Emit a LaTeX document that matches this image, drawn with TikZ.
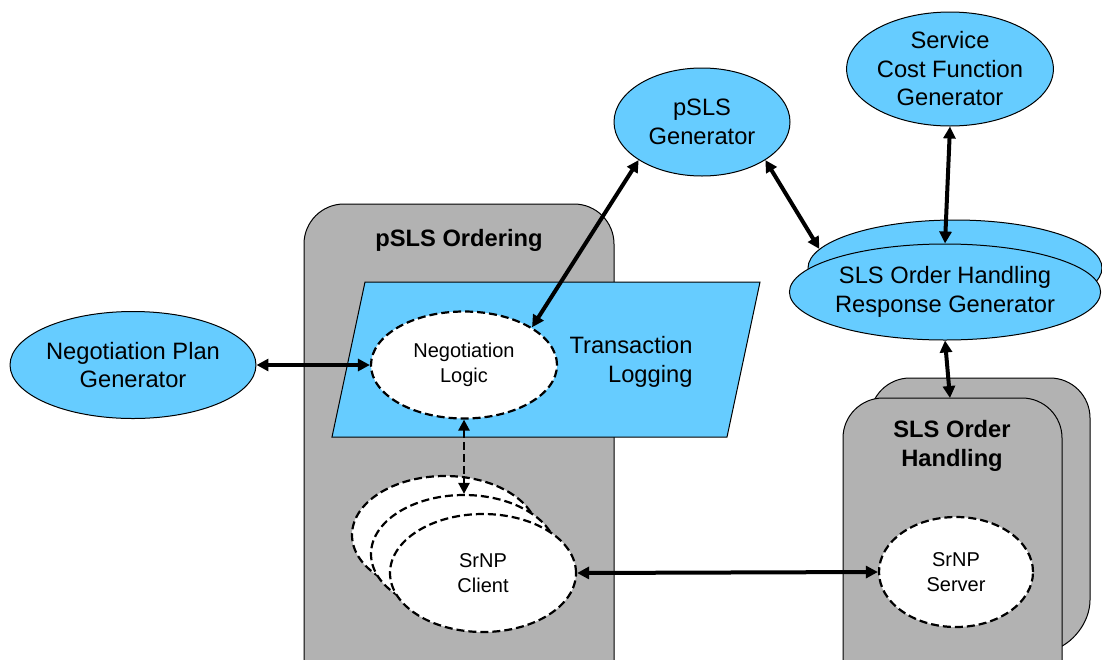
\documentclass[tikz,border=0pt]{standalone}
\usepackage{fontspec}
\setmainfont{Liberation Sans}
\usetikzlibrary{shapes.geometric,arrows.meta}
\definecolor{cyanfill}{RGB}{102,204,255}
\definecolor{boxgray}{RGB}{178,178,178}
\tikzset{
  big/.style={font=\fontsize{23.7}{28.5}\selectfont, align=center},
  small/.style={font=\fontsize{20}{24.5}\selectfont, align=center},
  cyanell/.style={ellipse, draw=black, line width=1pt, fill=cyanfill, inner sep=0pt, big},
  dashell/.style={ellipse, draw=black, line width=2.2pt, dash pattern=on 8pt off 4pt, fill=white, inner sep=0pt, small},
  graybox/.style={draw=black, line width=1pt, fill=boxgray, rounded corners=40pt},
  link/.style={line width=4pt, {Triangle[length=12pt,width=12pt]}-{Triangle[length=12pt,width=12pt]}},
  dlink/.style={line width=2.5pt, dash pattern=on 8pt off 4pt, {Triangle[length=11pt,width=11pt]}-{Triangle[length=11pt,width=11pt]}},
}
\begin{document}
\begin{tikzpicture}[x=1pt,y=-1pt]
\useasboundingbox (0,0) rectangle (1102,659);
% pSLS Ordering box
\path[graybox] (304,700) -- (304,204) -- (614,204) -- (614,700);
\node[big, font=\fontsize{23.7}{28.5}\selectfont\bfseries] (ordtitle) at (459,240) {pSLS Ordering};
% Transaction logging parallelogram
\path[draw=black, line width=1pt, fill=cyanfill] (365,282) -- (760,282) -- (727,437) -- (332,437) -- cycle;
\node[big, align=right, anchor=east] (tlog) at (696,362) {Transaction\\Logging};
% SLS Order Handling boxes
\path[graybox] (870,700) -- (870,378) -- (1090,378) -- (1090,640) -- cycle;
\path[graybox] (843,700) -- (843,398) -- (1062,398) -- (1062,700);
\node[coordinate] (slsboxtop) at (950,398) {};
\node[big, font=\fontsize{23.7}{28.5}\selectfont\bfseries] (slstitle) at (952,446) {SLS Order\\Handling};
% Ellipses
\node[cyanell, minimum width=244pt, minimum height=107pt] (npg) at (133,365) {Negotiation Plan\\Generator};
\node[cyanell, minimum width=176pt, minimum height=108pt] (psls) at (702,122) {pSLS\\Generator};
\node[cyanell, minimum width=205pt, minimum height=114pt] (scfg) at (950,69) {Service\\Cost Function\\Generator};
\node[cyanell, minimum width=294pt, minimum height=96pt] (slsb) at (955,268) {};
\node[cyanell, minimum width=294pt, minimum height=96pt] (slsf) at (945,292) {SLS Order Handling\\Response Generator};
\node[dashell, minimum width=186pt, minimum height=107pt] (nl) at (464,365) {Negotiation\\Logic};
\node[dashell, minimum width=186pt, minimum height=118pt] (cl3) at (445,535) {};
\node[dashell, minimum width=186pt, minimum height=118pt] (cl2) at (464,554) {};
\node[dashell, minimum width=186pt, minimum height=118pt] (cl1) at (483,573) {SrNP\\Client};
\node[dashell, minimum width=154pt, minimum height=110pt] (srv) at (956,572) {SrNP\\Server};
% Connectors
\draw[link] (npg.east) -- (nl.west);
\draw[link] (psls.211.8) -- (nl.29.6);
\draw[link] (psls.-31.8) -- (slsb.172);
\draw[link] (scfg.south) -- (slsf.north);
\draw[link] (slsf.south) -- (slsboxtop);
\draw[dlink] (nl.south) -- (cl2.north);
\draw[link] (cl1.east) -- (srv.west);
\end{tikzpicture}
\end{document}
